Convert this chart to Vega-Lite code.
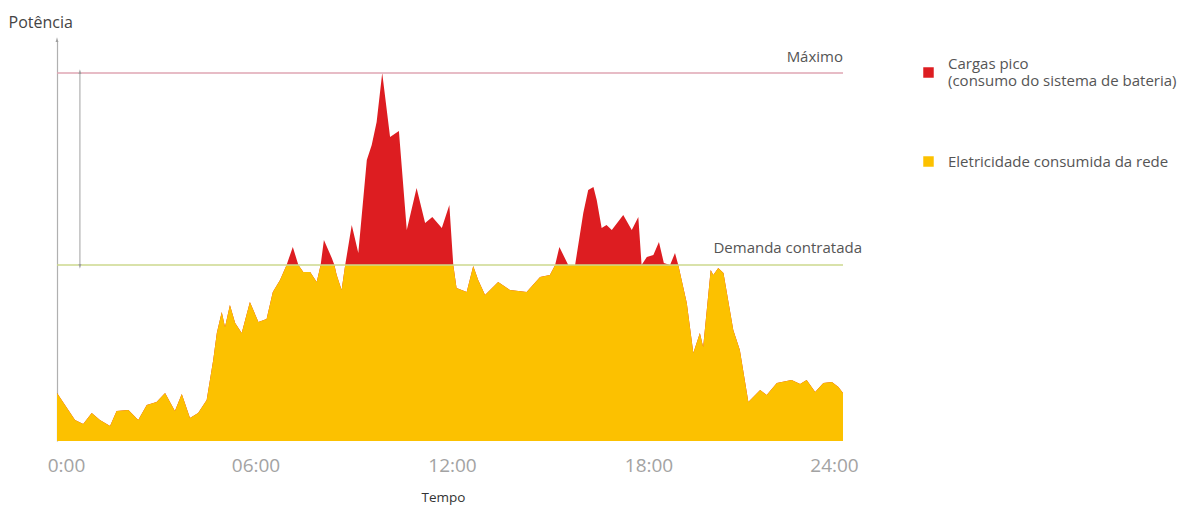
{
  "$schema": "https://vega.github.io/schema/vega-lite/v6.json",
  "width": 786,
  "height": 400,
  "autosize": {"type": "none"},
  "padding": {"left": 57, "top": 41, "right": 351, "bottom": 69},
  "background": "white",
  "config": {
    "font": "Open Sans",
    "view": {"stroke": null}
  },
  "datasets": {
    "power": [
      {"t": 0.0, "total": 48, "grid": 48},
      {"t": 0.55, "total": 21, "grid": 21},
      {"t": 0.8, "total": 17, "grid": 17},
      {"t": 1.06, "total": 28, "grid": 28},
      {"t": 1.31, "total": 21, "grid": 21},
      {"t": 1.62, "total": 15, "grid": 15},
      {"t": 1.82, "total": 30, "grid": 30},
      {"t": 2.18, "total": 31, "grid": 31},
      {"t": 2.48, "total": 21, "grid": 21},
      {"t": 2.74, "total": 36, "grid": 36},
      {"t": 3.04, "total": 39, "grid": 39},
      {"t": 3.3, "total": 48, "grid": 48},
      {"t": 3.6, "total": 30, "grid": 30},
      {"t": 3.81, "total": 47, "grid": 47},
      {"t": 4.06, "total": 23, "grid": 23},
      {"t": 4.31, "total": 28, "grid": 28},
      {"t": 4.57, "total": 41, "grid": 41},
      {"t": 4.77, "total": 81, "grid": 81},
      {"t": 4.88, "total": 108, "grid": 108},
      {"t": 5.03, "total": 129, "grid": 129},
      {"t": 5.13, "total": 114, "grid": 114},
      {"t": 5.28, "total": 136, "grid": 136},
      {"t": 5.44, "total": 118, "grid": 118},
      {"t": 5.64, "total": 108, "grid": 108},
      {"t": 5.89, "total": 139, "grid": 139},
      {"t": 6.15, "total": 119, "grid": 119},
      {"t": 6.4, "total": 122, "grid": 122},
      {"t": 6.59, "total": 149, "grid": 149},
      {"t": 6.81, "total": 161, "grid": 161},
      {"t": 7.01, "total": 176, "grid": 176},
      {"t": 7.2, "total": 194, "grid": 176},
      {"t": 7.37, "total": 176, "grid": 176},
      {"t": 7.52, "total": 169, "grid": 169},
      {"t": 7.73, "total": 169, "grid": 169},
      {"t": 7.93, "total": 159, "grid": 159},
      {"t": 8.05, "total": 176, "grid": 176},
      {"t": 8.15, "total": 201, "grid": 176},
      {"t": 8.39, "total": 183, "grid": 176},
      {"t": 8.47, "total": 176, "grid": 176},
      {"t": 8.54, "total": 166, "grid": 166},
      {"t": 8.69, "total": 151, "grid": 151},
      {"t": 8.8, "total": 176, "grid": 176},
      {"t": 9.0, "total": 216, "grid": 176},
      {"t": 9.2, "total": 188, "grid": 176},
      {"t": 9.46, "total": 281, "grid": 176},
      {"t": 9.61, "total": 296, "grid": 176},
      {"t": 9.76, "total": 319, "grid": 176},
      {"t": 9.93, "total": 368, "grid": 176},
      {"t": 10.17, "total": 304, "grid": 176},
      {"t": 10.44, "total": 310, "grid": 176},
      {"t": 10.68, "total": 211, "grid": 176},
      {"t": 10.98, "total": 253, "grid": 176},
      {"t": 11.24, "total": 218, "grid": 176},
      {"t": 11.46, "total": 224, "grid": 176},
      {"t": 11.75, "total": 213, "grid": 176},
      {"t": 11.98, "total": 236, "grid": 176},
      {"t": 12.1, "total": 176, "grid": 176},
      {"t": 12.2, "total": 153, "grid": 153},
      {"t": 12.51, "total": 149, "grid": 149},
      {"t": 12.71, "total": 175, "grid": 175},
      {"t": 12.86, "total": 161, "grid": 161},
      {"t": 13.07, "total": 146, "grid": 146},
      {"t": 13.47, "total": 159, "grid": 159},
      {"t": 13.83, "total": 151, "grid": 151},
      {"t": 14.34, "total": 149, "grid": 149},
      {"t": 14.75, "total": 164, "grid": 164},
      {"t": 15.05, "total": 166, "grid": 166},
      {"t": 15.21, "total": 176, "grid": 176},
      {"t": 15.34, "total": 194, "grid": 176},
      {"t": 15.61, "total": 176, "grid": 176},
      {"t": 15.82, "total": 176, "grid": 176},
      {"t": 16.07, "total": 228, "grid": 176},
      {"t": 16.22, "total": 251, "grid": 176},
      {"t": 16.38, "total": 254, "grid": 176},
      {"t": 16.48, "total": 241, "grid": 176},
      {"t": 16.63, "total": 213, "grid": 176},
      {"t": 16.78, "total": 216, "grid": 176},
      {"t": 16.94, "total": 211, "grid": 176},
      {"t": 17.29, "total": 226, "grid": 176},
      {"t": 17.55, "total": 211, "grid": 176},
      {"t": 17.75, "total": 224, "grid": 176},
      {"t": 17.85, "total": 176, "grid": 176},
      {"t": 18.01, "total": 184, "grid": 176},
      {"t": 18.21, "total": 186, "grid": 176},
      {"t": 18.38, "total": 199, "grid": 176},
      {"t": 18.53, "total": 178, "grid": 176},
      {"t": 18.72, "total": 176, "grid": 176},
      {"t": 18.87, "total": 188, "grid": 176},
      {"t": 18.97, "total": 176, "grid": 176},
      {"t": 19.23, "total": 138, "grid": 138},
      {"t": 19.43, "total": 88, "grid": 88},
      {"t": 19.63, "total": 108, "grid": 108},
      {"t": 19.73, "total": 94, "grid": 94},
      {"t": 19.96, "total": 171, "grid": 171},
      {"t": 20.04, "total": 166, "grid": 166},
      {"t": 20.19, "total": 173, "grid": 173},
      {"t": 20.35, "total": 168, "grid": 168},
      {"t": 20.65, "total": 111, "grid": 111},
      {"t": 20.85, "total": 91, "grid": 91},
      {"t": 21.11, "total": 39, "grid": 39},
      {"t": 21.47, "total": 51, "grid": 51},
      {"t": 21.67, "total": 46, "grid": 46},
      {"t": 21.98, "total": 58, "grid": 58},
      {"t": 22.43, "total": 61, "grid": 61},
      {"t": 22.69, "total": 57, "grid": 57},
      {"t": 22.89, "total": 61, "grid": 61},
      {"t": 23.15, "total": 49, "grid": 49},
      {"t": 23.4, "total": 58, "grid": 58},
      {"t": 23.66, "total": 59, "grid": 59},
      {"t": 23.86, "total": 54, "grid": 54},
      {"t": 24.0, "total": 48, "grid": 48}
    ],
    "levels": [
      {"level": "Máximo", "v": 368},
      {"level": "Demanda contratada", "v": 176}
    ],
    "span": [
      {"t": 0.7, "lo": 176, "hi": 368}
    ],
    "axisTop": [
      {"t": 0, "v": 400}
    ]
  },
  "data": {"name": "power"},
  "layer": [
    {
      "mark": {"type": "area", "interpolate": "linear"},
      "encoding": {
        "x": {
          "field": "t",
          "type": "quantitative",
          "scale": {"domain": [0, 24], "nice": false, "zero": false},
          "axis": {
            "values": [0, 6, 12, 18, 24],
            "labelExpr": "datum.value == 0 ? '0:00' : (datum.value < 10 ? '0' : '') + datum.value + ':00'",
            "labelFlush": false,
            "labelOffset": {"condition": [{"test": "datum.value == 0", "value": 9}, {"test": "datum.value == 24", "value": -9}], "value": 2},
            "domain": false,
            "ticks": false,
            "grid": false,
            "labelFontSize": 19,
            "labelColor": "#a3a3a3",
            "labelPadding": 15,
            "title": "Tempo",
            "titleFontSize": 13.5,
            "titleFontWeight": "normal",
            "titleColor": "#333333",
            "titlePadding": 15,
            "titleX": 386
          }
        },
        "y": {
          "field": "total",
          "type": "quantitative",
          "scale": {"domain": [0, 400], "nice": false},
          "axis": {
            "title": "Potência",
            "titleAngle": 0,
            "titleAlign": "left",
            "titleBaseline": "middle",
            "titleX": -49,
            "titleY": -19,
            "titleFontSize": 16,
            "titleFontWeight": "normal",
            "titleColor": "#444444",
            "labels": false,
            "ticks": false,
            "grid": false,
            "domainColor": "#b0b0b0",
            "domainWidth": 1.2
          }
        },
        "color": {
          "datum": "Cargas pico",
          "type": "nominal",
          "scale": {
            "domain": ["Cargas pico", "Eletricidade consumida da rede"],
            "range": ["#DD1D21", "#FCC100"]
          },
          "legend": {
            "title": null,
            "orient": "none",
            "legendX": 864,
            "legendY": 24,
            "symbolType": "square",
            "symbolSize": 110,
            "symbolStrokeWidth": 0,
            "labelFont": "Open Sans",
            "labelFontSize": 15,
            "labelColor": "#555555",
            "labelOffset": 12,
            "labelLimit": 320,
            "rowPadding": 65,
            "labelBaseline": {"expr": "datum.value == 'Cargas pico' ? 'line-bottom' : 'middle'"},
            "labelExpr": "datum.label == 'Cargas pico' ? ['Cargas pico', '(consumo do sistema de bateria)'] : datum.label"
          }
        }
      }
    },
    {
      "mark": {"type": "area", "interpolate": "linear"},
      "encoding": {
        "x": {"field": "t", "type": "quantitative"},
        "y": {"field": "grid", "type": "quantitative"},
        "color": {"datum": "Eletricidade consumida da rede", "type": "nominal"}
      }
    },
    {
      "data": {"name": "levels"},
      "mark": {"type": "rule", "strokeWidth": 1.3},
      "encoding": {
        "x": {"datum": 0, "type": "quantitative"},
        "x2": {"datum": 24},
        "y": {"field": "v", "type": "quantitative"},
        "stroke": {
          "field": "level",
          "type": "nominal",
          "scale": {"domain": ["Máximo", "Demanda contratada"], "range": ["#dfa6b3", "#cdd88e"]},
          "legend": null
        }
      }
    },
    {
      "data": {"name": "levels"},
      "transform": [{"filter": "datum.level == 'Máximo'"}],
      "mark": {"type": "text", "align": "right", "baseline": "middle", "fontSize": 15, "color": "#555555", "dy": -16},
      "encoding": {
        "x": {"datum": 24, "type": "quantitative"},
        "y": {"field": "v", "type": "quantitative"},
        "text": {"field": "level"}
      }
    },
    {
      "data": {"name": "levels"},
      "transform": [{"filter": "datum.level == 'Demanda contratada'"}],
      "mark": {"type": "text", "align": "right", "baseline": "middle", "fontSize": 15, "color": "#555555", "dx": 19, "dy": -17},
      "encoding": {
        "x": {"datum": 24, "type": "quantitative"},
        "y": {"field": "v", "type": "quantitative"},
        "text": {"field": "level"}
      }
    },
    {
      "data": {"name": "span"},
      "mark": {"type": "rule", "color": "#a0a0a0", "strokeWidth": 1},
      "encoding": {
        "x": {"field": "t", "type": "quantitative"},
        "y": {"field": "lo", "type": "quantitative"},
        "y2": {"field": "hi"}
      }
    },
    {
      "data": {"name": "span"},
      "mark": {"type": "point", "filled": true, "color": "#a0a0a0", "opacity": 1, "size": 40, "shape": "M0,-1.2L-0.45,0.3L0.45,0.3Z", "dy": 4},
      "encoding": {
        "x": {"field": "t", "type": "quantitative"},
        "y": {"field": "hi", "type": "quantitative"}
      }
    },
    {
      "data": {"name": "span"},
      "mark": {"type": "point", "filled": true, "color": "#a0a0a0", "opacity": 1, "size": 40, "shape": "M0,1.2L-0.45,-0.3L0.45,-0.3Z", "dy": -4},
      "encoding": {
        "x": {"field": "t", "type": "quantitative"},
        "y": {"field": "lo", "type": "quantitative"}
      }
    },
    {
      "data": {"name": "axisTop"},
      "mark": {"type": "point", "filled": true, "color": "#a0a0a0", "opacity": 1, "size": 40, "shape": "M0,-1.2L-0.45,0.3L0.45,0.3Z", "dy": 4},
      "encoding": {
        "x": {"field": "t", "type": "quantitative"},
        "y": {"field": "v", "type": "quantitative"}
      }
    }
  ]
}
